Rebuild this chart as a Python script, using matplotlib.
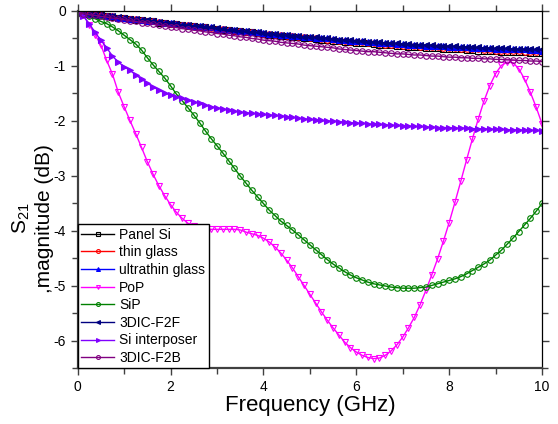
import numpy as np
import matplotlib
matplotlib.use("Agg")
import matplotlib.pyplot as plt
from matplotlib.ticker import MultipleLocator

plt.rcParams['font.family'] = ['Liberation Sans', 'DejaVu Sans']
plt.rcParams['mathtext.default'] = 'regular'
plt.rcParams['axes.unicode_minus'] = False

# frequency sweep, 0 to 10 GHz in 0.125 GHz steps
freq = np.linspace(0, 10, 81)

panel_si = [-0.04, -0.05, -0.06, -0.07, -0.08, -0.09, -0.11, -0.12, -0.13,
            -0.14, -0.16, -0.17, -0.18, -0.19, -0.21, -0.22, -0.23,
            -0.24, -0.26, -0.27, -0.28, -0.29, -0.30, -0.32, -0.33,
            -0.34, -0.35, -0.36, -0.37, -0.38, -0.39, -0.40, -0.42,
            -0.43, -0.44, -0.45, -0.46, -0.47, -0.48, -0.49, -0.50,
            -0.51, -0.52, -0.53, -0.54, -0.55, -0.56, -0.57, -0.58,
            -0.58, -0.59, -0.60, -0.61, -0.62, -0.62, -0.63, -0.64,
            -0.65, -0.65, -0.66, -0.67, -0.67, -0.68, -0.69, -0.69,
            -0.70, -0.70, -0.71, -0.71, -0.72, -0.72, -0.73, -0.73,
            -0.74, -0.74, -0.75, -0.75, -0.75, -0.76, -0.76, -0.77]

thin_glass = [-0.04, -0.05, -0.06, -0.07, -0.08, -0.09, -0.10, -0.12, -0.13,
              -0.14, -0.15, -0.17, -0.18, -0.19, -0.20, -0.22, -0.23,
              -0.24, -0.25, -0.26, -0.28, -0.29, -0.30, -0.31, -0.32,
              -0.33, -0.35, -0.36, -0.37, -0.38, -0.39, -0.40, -0.41,
              -0.42, -0.43, -0.44, -0.45, -0.46, -0.47, -0.48, -0.49,
              -0.50, -0.51, -0.52, -0.53, -0.54, -0.55, -0.56, -0.57,
              -0.57, -0.58, -0.59, -0.60, -0.61, -0.61, -0.62, -0.63,
              -0.63, -0.64, -0.65, -0.65, -0.66, -0.66, -0.67, -0.68,
              -0.68, -0.69, -0.69, -0.70, -0.70, -0.71, -0.71, -0.72,
              -0.72, -0.73, -0.73, -0.73, -0.74, -0.74, -0.75, -0.75]

ultrathin_glass = [-0.04, -0.05, -0.06, -0.07, -0.08, -0.09, -0.10, -0.12, -0.13,
                   -0.14, -0.15, -0.16, -0.18, -0.19, -0.20, -0.21, -0.22,
                   -0.24, -0.25, -0.26, -0.27, -0.28, -0.29, -0.30, -0.32,
                   -0.33, -0.34, -0.35, -0.36, -0.37, -0.38, -0.39, -0.40,
                   -0.41, -0.42, -0.43, -0.44, -0.45, -0.46, -0.47, -0.48,
                   -0.49, -0.50, -0.50, -0.51, -0.52, -0.53, -0.54, -0.55,
                   -0.55, -0.56, -0.57, -0.58, -0.58, -0.59, -0.60, -0.60,
                   -0.61, -0.62, -0.62, -0.63, -0.63, -0.64, -0.64, -0.65,
                   -0.65, -0.66, -0.66, -0.67, -0.67, -0.68, -0.68, -0.69,
                   -0.69, -0.69, -0.70, -0.70, -0.70, -0.71, -0.71, -0.72]

pop = [-0.02, -0.08, -0.25, -0.43, -0.62, -0.90, -1.15, -1.48, -1.74,
       -1.99, -2.23, -2.48, -2.74, -2.97, -3.18, -3.36, -3.52,
       -3.66, -3.77, -3.86, -3.91, -3.94, -3.96, -3.97, -3.97,
       -3.97, -3.97, -3.97, -3.98, -4.02, -4.05, -4.08, -4.13,
       -4.20, -4.29, -4.40, -4.53, -4.67, -4.83, -4.99, -5.15,
       -5.31, -5.47, -5.62, -5.76, -5.89, -6.02, -6.12, -6.20,
       -6.26, -6.30, -6.32, -6.31, -6.26, -6.18, -6.07, -5.93,
       -5.76, -5.57, -5.34, -5.08, -4.80, -4.51, -4.19, -3.85,
       -3.48, -3.10, -2.71, -2.33, -1.97, -1.64, -1.36, -1.14,
       -0.99, -0.93, -0.94, -1.05, -1.24, -1.48, -1.75, -2.05]

sip = [-0.03, -0.05, -0.09, -0.14, -0.19, -0.23, -0.29, -0.36, -0.44,
       -0.52, -0.60, -0.71, -0.85, -0.98, -1.10, -1.22, -1.36,
       -1.51, -1.63, -1.76, -1.89, -2.03, -2.18, -2.32, -2.45,
       -2.58, -2.72, -2.86, -3.00, -3.13, -3.26, -3.38, -3.50,
       -3.62, -3.72, -3.82, -3.90, -3.98, -4.07, -4.16, -4.25,
       -4.34, -4.43, -4.52, -4.60, -4.67, -4.74, -4.80, -4.85,
       -4.89, -4.93, -4.96, -4.98, -5.00, -5.02, -5.03, -5.04,
       -5.04, -5.04, -5.03, -5.02, -4.99, -4.96, -4.93, -4.90,
       -4.87, -4.83, -4.78, -4.72, -4.66, -4.60, -4.53, -4.44,
       -4.35, -4.24, -4.13, -4.01, -3.89, -3.77, -3.64, -3.50]

dic_f2f = [-0.04, -0.05, -0.06, -0.07, -0.08, -0.09, -0.10, -0.11, -0.13,
           -0.14, -0.15, -0.16, -0.17, -0.19, -0.20, -0.21, -0.22,
           -0.23, -0.25, -0.26, -0.27, -0.28, -0.29, -0.30, -0.31,
           -0.33, -0.34, -0.35, -0.36, -0.37, -0.38, -0.39, -0.40,
           -0.41, -0.42, -0.43, -0.44, -0.45, -0.46, -0.47, -0.48,
           -0.48, -0.49, -0.50, -0.51, -0.52, -0.53, -0.53, -0.54,
           -0.55, -0.56, -0.56, -0.57, -0.58, -0.58, -0.59, -0.60,
           -0.60, -0.61, -0.61, -0.62, -0.62, -0.63, -0.63, -0.64,
           -0.64, -0.65, -0.65, -0.66, -0.66, -0.67, -0.67, -0.68,
           -0.68, -0.68, -0.69, -0.69, -0.69, -0.70, -0.70, -0.70]

si_interposer = [-0.02, -0.10, -0.23, -0.39, -0.53, -0.67, -0.82, -0.93, -1.01,
                 -1.08, -1.16, -1.24, -1.31, -1.38, -1.44, -1.49, -1.53,
                 -1.56, -1.59, -1.62, -1.65, -1.68, -1.71, -1.74, -1.76,
                 -1.78, -1.80, -1.82, -1.84, -1.85, -1.86, -1.87, -1.88,
                 -1.89, -1.90, -1.91, -1.92, -1.93, -1.95, -1.96, -1.97,
                 -1.98, -1.99, -2.00, -2.00, -2.01, -2.02, -2.03, -2.04,
                 -2.04, -2.05, -2.06, -2.06, -2.07, -2.08, -2.08, -2.09,
                 -2.09, -2.10, -2.10, -2.11, -2.11, -2.12, -2.12, -2.12,
                 -2.13, -2.13, -2.13, -2.14, -2.14, -2.14, -2.15, -2.15,
                 -2.15, -2.16, -2.16, -2.16, -2.17, -2.17, -2.17, -2.18]

dic_f2b = [-0.04, -0.05, -0.07, -0.08, -0.10, -0.11, -0.13, -0.14, -0.16,
           -0.18, -0.19, -0.21, -0.22, -0.24, -0.26, -0.27, -0.29,
           -0.30, -0.32, -0.33, -0.35, -0.36, -0.38, -0.39, -0.41,
           -0.42, -0.44, -0.45, -0.47, -0.48, -0.50, -0.51, -0.53,
           -0.54, -0.55, -0.57, -0.58, -0.59, -0.60, -0.62, -0.63,
           -0.64, -0.65, -0.66, -0.67, -0.69, -0.70, -0.71, -0.72,
           -0.73, -0.74, -0.74, -0.75, -0.76, -0.77, -0.78, -0.78,
           -0.79, -0.80, -0.80, -0.81, -0.82, -0.82, -0.83, -0.84,
           -0.84, -0.85, -0.85, -0.86, -0.86, -0.87, -0.87, -0.88,
           -0.88, -0.89, -0.89, -0.90, -0.90, -0.91, -0.91, -0.92]

# label, data, color, marker, hollow marker?
series = [
    ("Panel Si", panel_si, "#000000", "s", True),
    ("thin glass", thin_glass, "#FF0000", "o", True),
    ("ultrathin glass", ultrathin_glass, "#0000FF", "^", False),
    ("PoP", pop, "#FF00FF", "v", True),
    ("SiP", sip, "#008000", "o", True),
    ("3DIC-F2F", dic_f2f, "#000080", "<", False),
    ("Si interposer", si_interposer, "#8000FF", ">", False),
    ("3DIC-F2B", dic_f2b, "#800080", "o", True),
]

fig = plt.figure(figsize=(5.58, 4.24), dpi=100)
ax = fig.add_axes([0.1392, 0.1309, 0.8321, 0.8432])

for label, vals, col, mk, hollow in series:
    ax.plot(freq, vals, color=col, lw=1.0, marker=mk, markersize=4,
            markeredgewidth=0.8,
            markerfacecolor='none' if hollow else col,
            label=label)

ax.set_xlim(0, 10)
ax.set_ylim(-6.5, 0)
ax.xaxis.set_major_locator(MultipleLocator(2))
ax.xaxis.set_minor_locator(MultipleLocator(1))
ax.yaxis.set_major_locator(MultipleLocator(1))
ax.yaxis.set_minor_locator(MultipleLocator(0.5))

for side in ['left', 'bottom']:
    ax.spines[side].set_linewidth(1.6)
    ax.spines[side].set_color('#404040')
for side in ['top', 'right']:
    ax.spines[side].set_linewidth(0.9)
    ax.spines[side].set_color('black')

ax.tick_params(which='both', direction='out', labelsize=10, width=1.0,
               color='#404040', top=True, right=True)
ax.tick_params(which='major', length=5)
ax.tick_params(which='minor', length=4)

ax.set_xlabel("Frequency (GHz)", fontsize=16)
ax.xaxis.set_label_coords(0.5, -0.075)
ax.set_ylabel("S$_{21}$\n,magnitude (dB)", fontsize=15, multialignment='center',
              linespacing=1.15)
ax.yaxis.set_label_coords(-0.052, 0.42)

leg = ax.legend(loc='lower left', bbox_to_anchor=(0, 0), borderaxespad=0,
                fontsize=10, handlelength=2.4, handletextpad=0.35,
                labelspacing=0.26, borderpad=0.25, markerscale=0.7,
                fancybox=False, framealpha=1, edgecolor='black')
leg.get_frame().set_linewidth(1.0)

fig.savefig('out.png', dpi=100)
